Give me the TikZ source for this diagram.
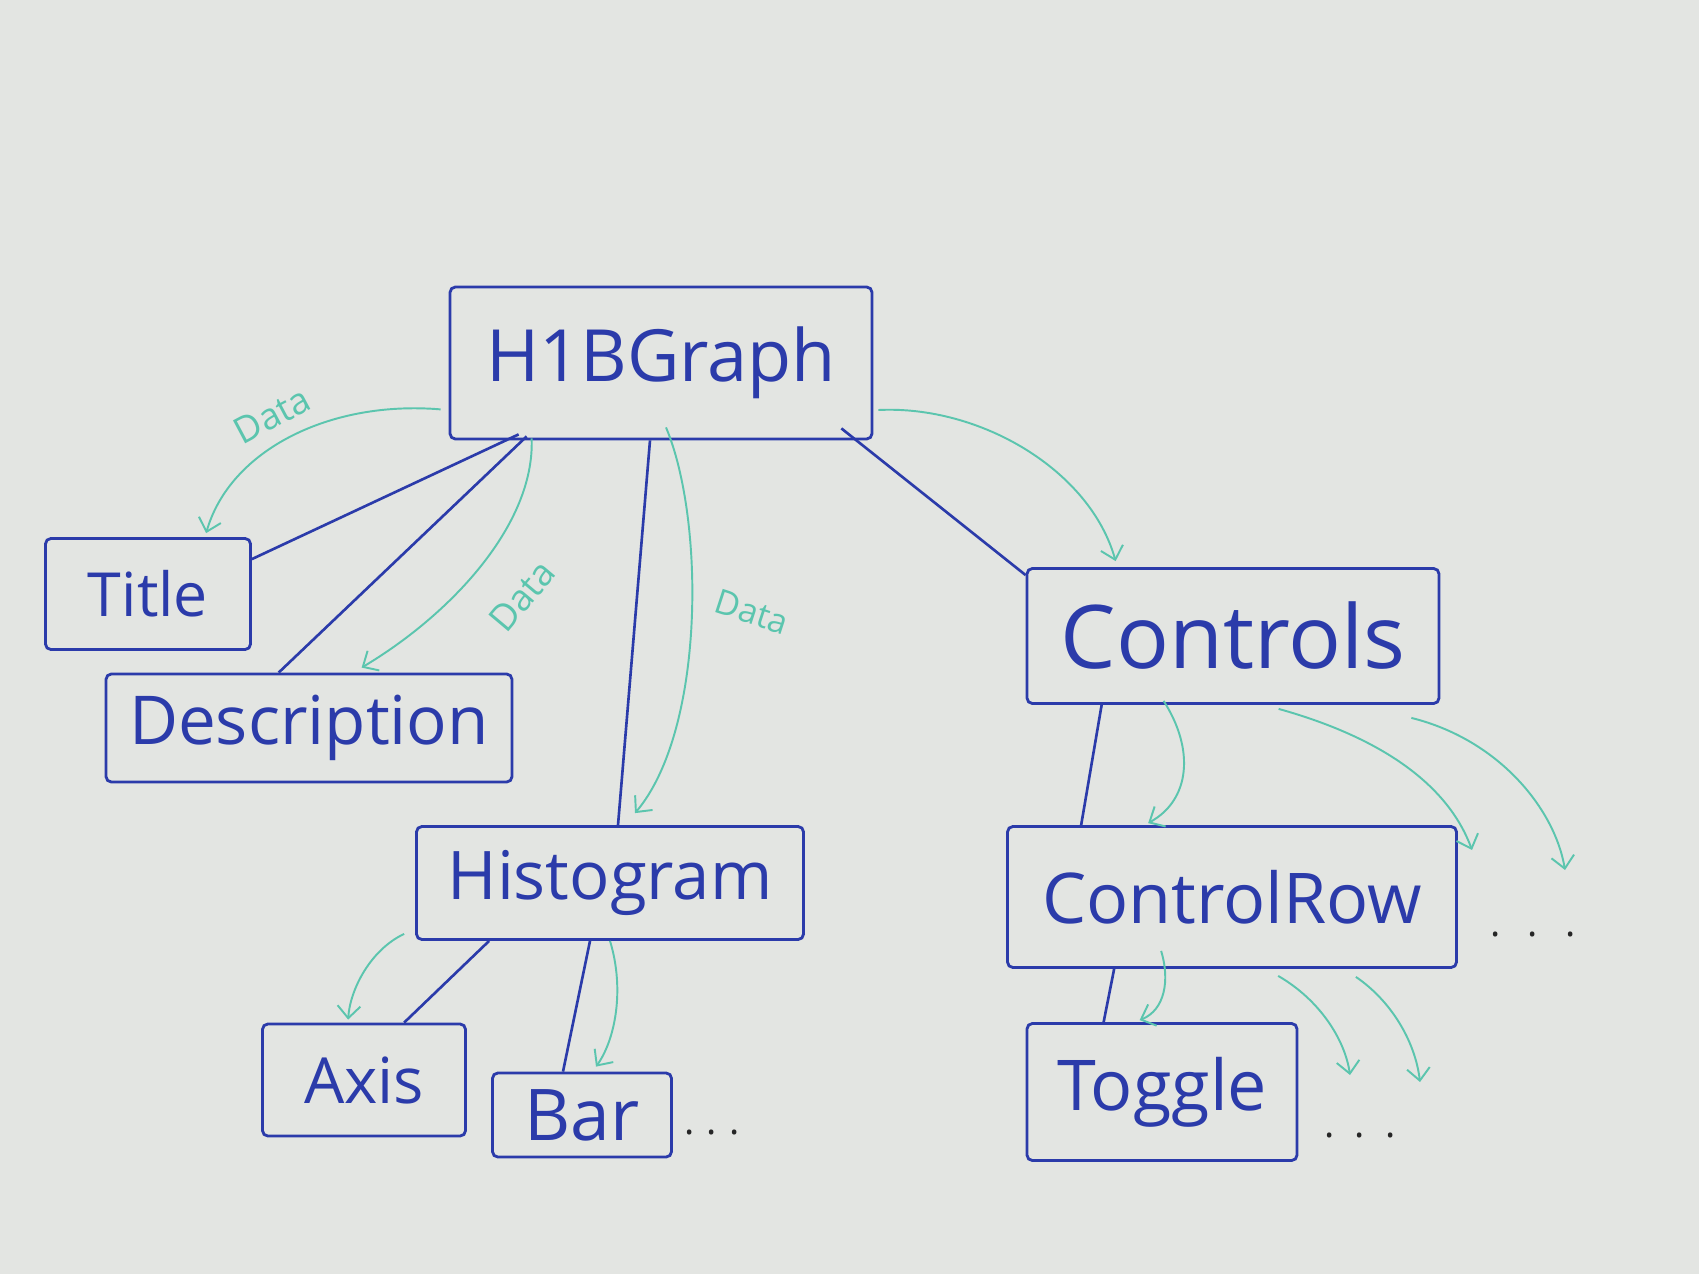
\documentclass[tikz,border=0pt]{standalone}
\usepackage{fontspec}
\setmainfont{Open Sans}
\usetikzlibrary{arrows.meta,calc}
\definecolor{ink}{HTML}{2B3BAA}
\definecolor{datagreen}{HTML}{5BC5AE}
\definecolor{board}{HTML}{E3E5E2}
\begin{document}
\begin{tikzpicture}[x=0.02cm,y=-0.02cm,
  box/.style={draw=ink, line width=1.6pt, rounded corners=3pt, inner sep=0pt, text=ink},
  link/.style={draw=ink, line width=1.5pt},
  flow/.style={draw=datagreen, line width=1.1pt, -{Straight Barb[length=7pt,width=13pt]}},
  datalbl/.style={text=datagreen, inner sep=0pt},
  dotsl/.style={text=black!85, inner sep=0pt, font=\fontsize{22}{24}\selectfont}]
\fill[board] (0,0) rectangle (1699,1274);
\useasboundingbox (0,0) rectangle (1699,1274);

% boxes
\node[box, minimum width=8.44cm, minimum height=3.04cm] (H) at (661,363) {\resizebox{7cm}{!}{H1BGraph}};
\node[box, minimum width=4.1cm, minimum height=2.22cm] (T) at (148,594) {\resizebox{2.4cm}{!}{Title}};
\node[box, minimum width=8.12cm, minimum height=2.16cm] (D) at (309,728) {\resizebox{7.2cm}{!}{Description}};
\node[box, minimum width=7.74cm, minimum height=2.26cm] (Hi) at (610,883) {\resizebox{6.5cm}{!}{Histogram}};
\node[box, minimum width=4.06cm, minimum height=2.24cm] (A) at (364,1080) {\resizebox{2.4cm}{!}{Axis}};
\node[box, minimum width=3.58cm, minimum height=1.68cm] (B) at (582,1115) {\resizebox{2.3cm}{!}{Bar}};
\node[box, minimum width=8.24cm, minimum height=2.7cm] (C) at (1233,636) {\resizebox{6.9cm}{!}{Controls}};
\node[box, minimum width=8.98cm, minimum height=2.82cm] (CR) at (1232,897) {\resizebox{7.6cm}{!}{ControlRow}};
\node[box, minimum width=5.4cm, minimum height=2.74cm] (TG) at (1162,1092) {\resizebox{4.2cm}{!}{Toggle}};

% ellipses
\node[dotsl] (d1) at (712,1132) {.\hspace{0.25cm}.\hspace{0.25cm}.};
\node[dotsl] (d2) at (1533,934) {.\hspace{0.55cm}.\hspace{0.55cm}.};
\node[dotsl] (d3) at (1360,1135) {.\hspace{0.4cm}.\hspace{0.4cm}.};

% structure links
\draw[link] ($(H.south west)+(70,-6)$) -- ($(T.north east)+(0,22)$);
\draw[link] ($(H.south west)+(78,-4)$) -- ($(D.north west)+(174,0)$);
\draw[link] ($(H.south)+(-11,0)$) -- ($(Hi.north)+(8,0)$);
\draw[link] ($(H.south east)+(-32,-12)$) -- ($(C.north west)+(0,8)$);
\draw[link] ($(Hi.south west)+(74,0)$) -- ($(A.north west)+(143,0)$);
\draw[link] ($(Hi.south)+(-20,0)$) -- ($(B.north)+(-19,0)$);
\draw[link] ($(C.south west)+(76,0)$) -- ($(CR.north west)+(75,0)$);
\draw[link] ($(CR.south west)+(108,0)$) -- ($(TG.north west)+(78,0)$);

% free arrow ends
\coordinate (e6) at (1472,850);
\coordinate (e7) at (1565,870);
\coordinate (e11) at (1350,1075);
\coordinate (e12) at (1420,1082);

% data flows
\draw[flow] ($(H.south west)+(-8,-31)$) .. controls (330,400) and (230,450) .. ($(T.north west)+(162,-4)$);
\draw[flow] ($(H.south west)+(83,-2)$) .. controls (535,525) and (450,615) .. ($(D.north west)+(257,-5)$);
\draw[flow] ($(H.south)+(5,-13)$) .. controls (705,520) and (705,730) .. ($(Hi.north)+(25,-12)$);
\draw[flow] ($(H.east)+(5,47)$) .. controls (980,405) and (1090,470) .. ($(C.north west)+(90,-6)$);
\draw[flow] ($(C.south west)+(138,-4)$) .. controls (1195,750) and (1190,800) .. ($(CR.north west)+(142,-2)$);
\draw[flow] ($(C.south west)+(253,4)$) .. controls (1390,740) and (1450,790) .. (e6);
\draw[flow] ($(C.south east)+(-29,13)$) .. controls (1500,740) and (1555,810) .. (e7);
\draw[flow] ($(Hi.south west)+(-11,-7)$) .. controls (370,950) and (350,990) .. ($(A.north west)+(87,-3)$);
\draw[flow] (Hi.south) .. controls (625,990) and (615,1040) .. ($(B.north)+(14,-5)$);
\draw[flow] ($(CR.south west)+(155,-18)$) .. controls (1170,980) and (1165,1010) .. ($(TG.north west)+(114,-2)$);
\draw[flow] ($(CR.south west)+(272,7)$) .. controls (1320,1000) and (1345,1040) .. (e11);
\draw[flow] ($(CR.south east)+(-102,8)$) .. controls (1390,1000) and (1415,1040) .. (e12);

% data labels
\node[datalbl, rotate=28] (l1) at (272,415) {\resizebox{1.6cm}{!}{Data}};
\node[datalbl, rotate=50] (l2) at (522,596) {\resizebox{1.6cm}{!}{Data}};
\node[datalbl, rotate=-18] (l3) at (752,612) {\resizebox{1.5cm}{!}{Data}};
\end{tikzpicture}
\end{document}
